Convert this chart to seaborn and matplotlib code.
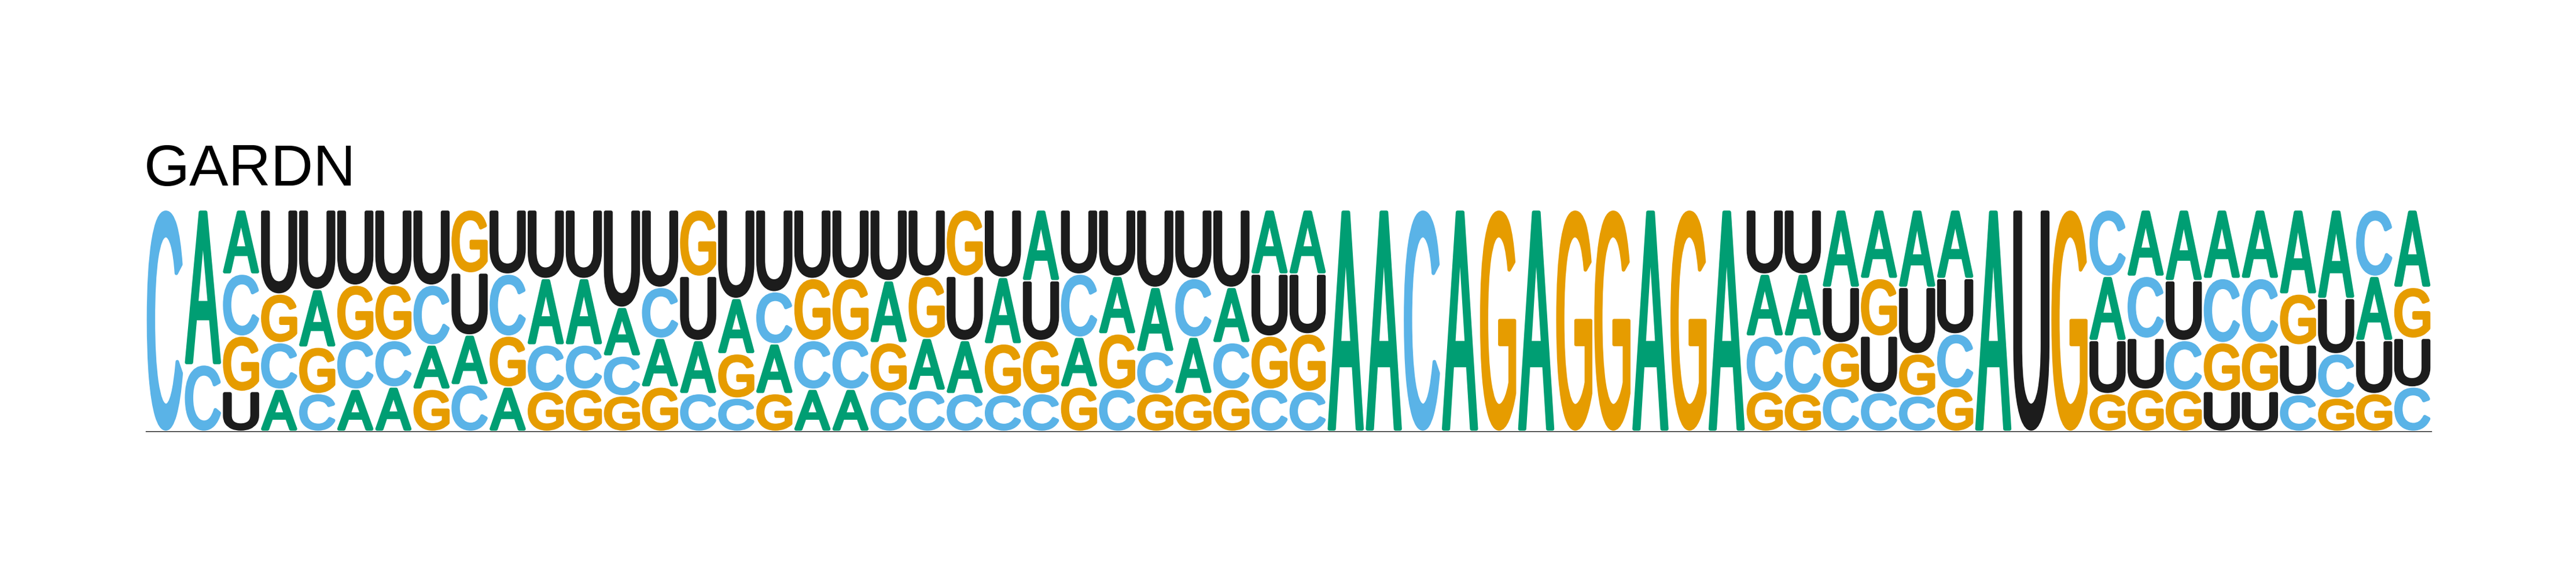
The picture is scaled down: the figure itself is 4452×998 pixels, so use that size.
import pandas as pd
import matplotlib
matplotlib.use('Agg')
import matplotlib.pyplot as plt
import seaborn as sns
from matplotlib.textpath import TextPath
from matplotlib.patches import PathPatch
from matplotlib.font_manager import FontProperties
from matplotlib.transforms import Affine2D

# ── DATA: letter probabilities per position ──
positions = list(range(1, 61))
A = [0, .70, .29, .19, .26, .19, .20, .20, .225, .20,
     .30, .30, .22, .22, .24, .25, .225, .19, .19, .28,
     .235, .24, .30, .32, .225, .26, .29, .255, .25, .29, .29,
     1, 1, 0, 1, 0, 1, 0, 0, 1, 0, 1,
     .28, .28, .35, .31, .35, .31, 1, 0, 0,
     .29, .30, .32, .31, .31, .38, .40, .29, .35]
C = [1, .30, .28, .21, .17, .22, .21, .27, .21, .28,
     .21, .20, .18, .23, .17, .15, .235, .22, .22, .18,
     .185, .17, .165, .17, .285, .19, .19, .265, .21, .19, .18,
     0, 0, 1, 0, 0, 0, 0, 0, 0, 0, 0,
     .25, .26, .195, .175, .16, .245, 0, 0, 0,
     .30, .28, .225, .29, .29, .165, .20, .30, .20]
G = [0, 0, .25, .22, .21, .25, .25, .19, .285, .23,
     .18, .19, .16, .20, .30, .20, .17, .28, .28, .22,
     .28, .30, .23, .24, .20, .25, .17, .17, .19, .24, .26,
     0, 0, 0, 0, 1, 0, 1, 1, 0, 1, 0,
     .18, .17, .205, .26, .19, .195, 0, 0, 1,
     .17, .19, .185, .22, .22, .23, .15, .17, .23]
U = [0, 0, .18, .38, .36, .34, .34, .34, .28, .29,
     .31, .31, .44, .35, .29, .40, .37, .31, .31, .32,
     .30, .29, .305, .27, .29, .30, .35, .31, .35, .28, .27,
     0, 0, 0, 0, 0, 0, 0, 0, 0, 0, 0,
     .29, .29, .25, .255, .30, .25, 0, 1, 0,
     .24, .23, .27, .18, .18, .225, .25, .24, .22]
letter_colors = {'A': '#009E73', 'C': '#5AB3E7', 'G': '#E69C00', 'U': '#1c1c1c'}
title = 'GARDN'

df = pd.DataFrame({'A': A, 'C': C, 'G': G, 'U': U}, index=positions)
df = df.div(df.sum(axis=1), axis=0)

sns.set_style('white')
plt.rcParams['font.family'] = ['Liberation Sans', 'DejaVu Sans']

W, H, DPI = 4452, 998, 100
fig = plt.figure(figsize=(W / DPI, H / DPI), dpi=DPI)
ax_w, ax_h = 3950, 383
ax = fig.add_axes([252 / W, 1 - 746 / H, ax_w / W, ax_h / H])
ax.set_xlim(positions[0] - 0.5, positions[-1] + 0.5)
ax.set_ylim(0, 1)

fp = FontProperties(family='Liberation Sans', weight='normal')
glyphs = {ch: TextPath((0, 0), ch, size=1, prop=fp) for ch in 'ACGU'}

# letters get a round-joined outline in their own colour (rounded ends)
stroke_px = 6
px_x = len(positions) / ax_w
px_y = 1 / ax_h


def draw_letter(ch, x, y0, h, width=0.95, vpad=0.003):
    path = glyphs[ch]
    ext = path.get_extents()
    gw = width - stroke_px * px_x
    gh = h - 2 * vpad - stroke_px * px_y
    if gh <= 0:
        return
    t = (Affine2D().translate(-ext.x0, -ext.y0)
         .scale(gw / ext.width, gh / ext.height)
         .translate(x - gw / 2, y0 + vpad + stroke_px * px_y / 2))
    patch = PathPatch(t.transform_path(path), facecolor=letter_colors[ch],
                      edgecolor=letter_colors[ch], lw=stroke_px * 72 / DPI,
                      joinstyle='round', capstyle='round')
    ax.add_patch(patch)


for pos, row in df.iterrows():
    y = 0
    for ch, v in row.sort_values().items():
        if v > 0:
            draw_letter(ch, pos, y, v)
            y += v

ax.set_xticks([])
ax.set_yticks([])
sns.despine(ax=ax, left=True)
ax.spines['bottom'].set_color('#111111')
ax.spines['bottom'].set_linewidth(1.0)

fig.text(249 / W, 1 - 321 / H, title, fontsize=73, ha='left', va='baseline',
         color='black')

fig.savefig('out.png', dpi=DPI)
